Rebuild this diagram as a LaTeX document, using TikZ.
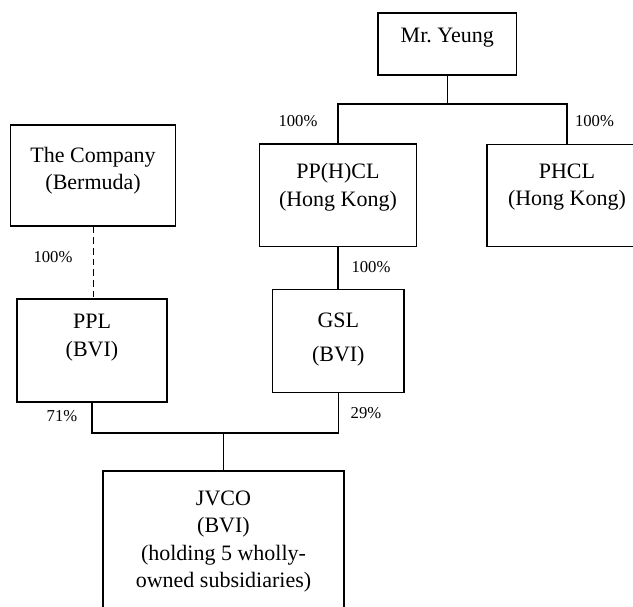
\documentclass[tikz,border=0pt]{standalone}
\usepackage{fontspec}
\setmainfont{Liberation Serif}
\usetikzlibrary{positioning,calc}
\tikzset{
    % Define box style
    firm/.style={
           draw,
           line width=0.9pt,
           inner sep=0pt},
    % Define text styles
    firmtext/.style={
           align=center,
           inner sep=0pt,
           font=\fontsize{16.5}{20.5}\selectfont},
    pct/.style={
           inner sep=0pt,
           font=\fontsize{12.5}{15}\selectfont},
    % Define ownership line style
    own/.style={
           line width=0.9pt}
}
\begin{document}
\begin{tikzpicture}[x=0.75pt,y=-0.75pt]
\clip (0,0) rectangle (633,607);

\node[firm, minimum width=104pt, minimum height=46.5pt] (yeung) at (447.3,44) {};
\node[firmtext] (yeungtxt) at (447.3,38) {Mr.\ Yeung};

\node[firm, minimum width=124pt, minimum height=75.8pt] (company) at (93.1,175.5) {};
\node[firmtext] (companytxt) at (93.1,170.5) {The Company\\(Bermuda)};

\node[firm, minimum width=118.3pt, minimum height=77pt] (pphcl) at (338,195.4) {};
\node[firmtext] (pphcltxt) at (338,187.4) {PP(H)CL\\(Hong Kong)};

\node[firm, minimum width=120pt, minimum height=77pt] (phcl) at (567,195.5) {};
\node[firmtext] (phcltxt) at (567,187.4) {PHCL\\(Hong Kong)};

\node[firm, minimum width=112.5pt, minimum height=77.3pt] (ppl) at (92,350.5) {};
\node[firmtext] (ppltxt) at (92,337.5) {PPL\\(BVI)};

\node[firm, minimum width=98.5pt, minimum height=77.5pt] (gsl) at (338.3,341) {};
\node[firmtext] (gsltxt) at (338.3,340) {GSL\\[5pt](BVI)};

\node[firm, minimum width=180.8pt, minimum height=115.5pt] (jvco) at (223.5,548) {};
\node[firmtext] (jvcotxt) at (223.5,541.5) {JVCO\\(BVI)\\(holding 5 wholly-\\owned subsidiaries)};

% ownership lines
\coordinate (yeungjn) at (447.3,104);
\coordinate (jvcojn) at (223.5,433);
\draw[own] (yeung.south) -- (yeungjn);
\draw[own] (pphcl.north) |- (yeungjn) -| (phcl.north);
\draw[own] (pphcl.south) -- (gsl.north -| pphcl.south);
\draw[own, dash pattern=on 5pt off 3pt] (company.south) -- (ppl.north -| company.south);
\draw[own] (ppl.south) |- (jvcojn) -| (gsl.south);
\draw[own] (jvcojn) -- (jvco.north);

% percentages
\node[pct] (pyeungl) at (298,121) {100\%};
\node[pct] (pyeungr) at (594.5,121) {100\%};
\node[pct] (ppphcl) at (371,267) {100\%};
\node[pct] (pcompany) at (53,257) {100\%};
\node[pct] (pppl) at (62,416) {71\%};
\node[pct] (pgsl) at (366,413) {29\%};
\end{tikzpicture}
\end{document}
